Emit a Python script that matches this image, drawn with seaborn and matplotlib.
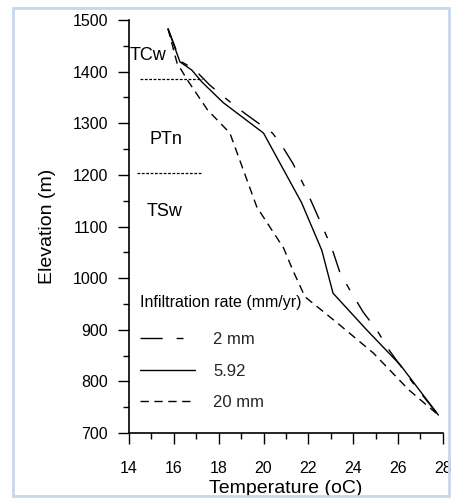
import matplotlib
matplotlib.use("Agg")
import matplotlib.pyplot as plt
import seaborn as sns
import pandas as pd
from matplotlib.lines import Line2D
from matplotlib.patches import Rectangle

# ---- data ----
t_2mm = [15.74, 16.3, 16.9, 17.6, 18.4, 19.2, 20.0, 20.4, 20.8, 21.3, 21.8, 22.2,
         23.05, 23.4, 23.85, 24.45, 25.05, 25.6, 26.8, 27.8]
e_2mm = [1483, 1420, 1405, 1374, 1345, 1318, 1293, 1281, 1258, 1223, 1180, 1142,
         1058, 1012, 977, 934, 900, 861, 789, 735]

t_592 = [15.74, 16.27, 16.8, 17.25, 18.2, 20.0, 21.7, 22.6, 23.1, 24.6, 26.1, 27.8]
e_592 = [1483, 1419, 1403, 1380, 1340, 1281, 1146, 1054, 971, 900, 832, 735]

t_20mm = [15.74, 16.14, 16.6, 17.5, 18.5, 19.7, 20.9, 21.3, 21.85, 23.3, 24.9, 26.5, 27.8]
e_20mm = [1483, 1417, 1384, 1326, 1281, 1138, 1058, 1016, 964, 913, 855, 783, 735]

series_labels = ["2 mm", "5.92", "20 mm"]
legend_title = "Infiltration rate (mm/yr)"
unit_labels = ["TCw", "PTn", "TSw"]
unit_x = [14.05, 15.65, 15.6]
unit_y = [1432, 1268, 1130]
boundary_elev = [1386, 1204]
boundary_x0 = [14.5, 14.35]
boundary_x1 = [17.25, 17.2]

x_ticks = [14, 16, 18, 20, 22, 24, 26, 28]
y_ticks = [700, 800, 900, 1000, 1100, 1200, 1300, 1400, 1500]

df = pd.concat([
    pd.DataFrame({"T": t_2mm, "E": e_2mm, "rate": series_labels[0]}),
    pd.DataFrame({"T": t_592, "E": e_592, "rate": series_labels[1]}),
    pd.DataFrame({"T": t_20mm, "E": e_20mm, "rate": series_labels[2]}),
], ignore_index=True)

sns.set_theme(style="white")
plt.rcParams["font.family"] = ["Liberation Sans", "DejaVu Sans"]

fig = plt.figure(figsize=(4.51, 4.99), dpi=100)
fig.patch.set_facecolor("white")
ax = fig.add_axes([0.286, 0.132, 0.696, 0.828])

dash_map = {"2 mm": (16, 10, 5, 10), "5.92": "", "20 mm": (6, 4)}
sns.lineplot(data=df, x="T", y="E", style="rate", dashes=dash_map, color="black",
             sort=False, estimator=None, units="rate", linewidth=1.0, legend=False, ax=ax)

for y0, xa, xb in zip(boundary_elev, boundary_x0, boundary_x1):
    ax.plot([xa, xb], [y0, y0], color="black", linewidth=0.9, linestyle=(0, (2.2, 1.3)))

for lab, x, y in zip(unit_labels, unit_x, unit_y):
    ha = "left" if lab == "TCw" else "center"
    ax.text(x, y, lab, fontsize=13, ha=ha, va="center", color="black")

ax.set_xlim(14, 28)
ax.set_ylim(700, 1500)
ax.set_xticks(x_ticks)
ax.set_yticks(y_ticks)
ax.set_xticks([15, 17, 19, 21, 23, 25, 27], minor=True)
ax.set_yticks([750, 850, 950, 1050, 1150, 1250, 1350, 1450], minor=True)
ax.tick_params(axis="both", which="major", direction="out", length=8, width=1,
               color="black", labelsize=11.5, labelcolor="black", bottom=True, left=True)
ax.tick_params(axis="both", which="minor", direction="out", length=4, width=1,
               color="black", bottom=True, left=True)
ax.tick_params(axis="x", which="major", pad=12)
ax.tick_params(axis="y", which="major", pad=7)
for s in ["top", "right"]:
    ax.spines[s].set_visible(False)
for s in ["left", "bottom"]:
    ax.spines[s].set_color("black")
    ax.spines[s].set_linewidth(1.2)
ax.set_facecolor("white")
ax.set_xlabel("Temperature (oC)", fontsize=14, labelpad=3, color="black")
ax.set_ylabel("Elevation (m)", fontsize=14, labelpad=12, color="black")

# legend title as separate text, entries as legend
ax.text(0.035, 0.315, legend_title, transform=ax.transAxes, fontsize=11.5,
        ha="left", va="center", color="black")
handles = [Line2D([], [], color="black", lw=1.0, dashes=dash_map["2 mm"]),
           Line2D([], [], color="black", lw=1.0),
           Line2D([], [], color="black", lw=1.0, dashes=dash_map["20 mm"])]
leg = ax.legend(handles, series_labels, frameon=False,
                loc="upper left", bbox_to_anchor=(0.035, 0.245), fontsize=12,
                handlelength=3.3, labelspacing=1.0, handletextpad=1.1,
                borderaxespad=0, borderpad=0)

fig.patches.append(Rectangle((0.028, 0.006), 0.967, 0.978, transform=fig.transFigure,
                             fill=False, edgecolor="#c8d6ee", linewidth=2.0))

fig.savefig("out.png", dpi=100)
